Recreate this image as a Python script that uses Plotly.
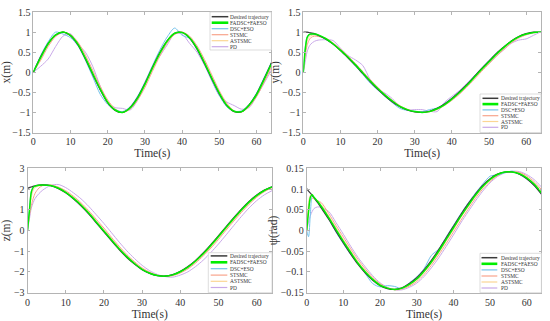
import plotly.graph_objects as go

# ---------------- data ----------------
names = ["Desired trajectory", "FADSC+FAESO", "DSC+ESO", "STSMC", "ASTSMC", "PD"]

t_x = [0, 2, 4, 6, 8, 10, 12, 14, 16, 18, 20, 22, 24, 26, 28, 30, 32, 34, 36, 38,
       40, 42, 44, 46, 48, 50, 52, 54, 56, 58, 60, 62, 64]
t_f = [0, 0.5, 1, 1.5, 2, 3, 4, 6, 8, 10, 12, 14, 16, 18, 20, 22, 24, 26, 28, 30,
       32, 34, 36, 38, 40, 42, 44, 46, 48, 50, 52, 54, 56, 58, 60, 62, 64]

x_des = [0.00, 0.39, 0.72, 0.93, 1.00, 0.91, 0.68, 0.33, -0.06, -0.44, -0.76, -0.95, -1.00, -0.88, -0.63, -0.28, 0.12,
         0.49, 0.79, 0.97, 0.99, 0.85, 0.58, 0.22, -0.17, -0.54, -0.83, -0.98, -0.98, -0.81, -0.54, -0.17, 0.23]
x_fadsc = [0.00, 0.37, 0.71, 0.93, 1.00, 0.92, 0.70, 0.35, -0.04, -0.42, -0.75, -0.94, -1.00, -0.89, -0.65, -0.30, 0.10,
           0.47, 0.78, 0.97, 0.99, 0.86, 0.60, 0.24, -0.15, -0.52, -0.82, -0.97, -0.98, -0.82, -0.56, -0.19, 0.21]
x_dsc = [0.00, 0.42, 0.76, 1.00, 0.95, 0.86, 0.66, 0.30, -0.12, -0.55, -0.80, -0.93, -0.98, -0.86, -0.60, -0.25, 0.16,
         0.55, 0.88, 1.10, 0.92, 0.84, 0.56, 0.20, -0.20, -0.58, -0.86, -0.97, -0.96, -0.80, -0.52, -0.14, 0.25]
x_stsmc = [0.00, 0.30, 0.64, 0.89, 0.99, 0.94, 0.75, 0.43, 0.04, -0.35, -0.69, -0.91, -1.00, -0.92, -0.70, -0.38, 0.02,
           0.40, 0.73, 0.94, 1.00, 0.90, 0.66, 0.32, -0.07, -0.46, -0.77, -0.96, -0.99, -0.86, -0.61, -0.26, 0.13]
x_astsmc = [0.00, 0.35, 0.68, 0.91, 1.00, 0.93, 0.72, 0.38, -0.01, -0.40, -0.73, -0.93, -1.00, -0.90, -0.67, -0.33, 0.07,
            0.45, 0.76, 0.96, 1.00, 0.88, 0.62, 0.27, -0.12, -0.50, -0.80, -0.97, -0.99, -0.84, -0.58, -0.22, 0.18]
x_pd = [0.00, 0.15, 0.33, 0.64, 0.90, 0.96, 0.70, 0.50, 0.14, -0.35, -0.76, -0.88, -0.90, -0.94, -0.70, -0.25, 0.12,
        0.40, 0.68, 0.96, 0.95, 0.72, 0.50, 0.18, -0.22, -0.58, -0.74, -0.83, -0.92, -0.88, -0.60, -0.28, 0.05]

y_des = [1.00, 1.00, 1.00, 0.99, 0.98, 0.96, 0.92, 0.83, 0.70, 0.54, 0.36, 0.17, -0.03, -0.23, -0.42, -0.59, -0.74, -0.86, -0.94,
         -0.99, -1.00, -0.97, -0.90, -0.79, -0.65, -0.49, -0.31, -0.11, 0.09, 0.28, 0.47, 0.63, 0.78, 0.89, 0.96, 1.00, 0.99]
y_fadsc = [0.00, 0.55, 0.85, 0.93, 0.95, 0.95, 0.93, 0.84, 0.71, 0.55, 0.38, 0.19, -0.01, -0.21, -0.40, -0.57, -0.72, -0.85, -0.93,
           -0.98, -1.00, -0.98, -0.91, -0.81, -0.67, -0.51, -0.33, -0.13, 0.07, 0.26, 0.45, 0.62, 0.77, 0.88, 0.95, 0.99, 1.00]
y_dsc = [0.00, 0.60, 0.88, 0.94, 0.95, 0.94, 0.92, 0.82, 0.70, 0.55, 0.36, 0.16, -0.05, -0.27, -0.44, -0.60, -0.76, -0.90, -0.95,
         -0.97, -0.98, -0.93, -0.89, -0.78, -0.64, -0.48, -0.30, -0.10, 0.10, 0.29, 0.47, 0.63, 0.77, 0.88, 0.95, 0.99, 1.00]
y_stsmc = [0.00, 0.40, 0.66, 0.79, 0.86, 0.90, 0.89, 0.85, 0.73, 0.58, 0.41, 0.22, 0.02, -0.18, -0.37, -0.55, -0.70, -0.83, -0.92,
           -0.98, -1.00, -0.98, -0.93, -0.83, -0.70, -0.55, -0.37, -0.18, 0.02, 0.21, 0.40, 0.57, 0.73, 0.85, 0.93, 0.98, 1.00]
y_astsmc = [0.00, 0.48, 0.76, 0.87, 0.91, 0.93, 0.90, 0.84, 0.72, 0.56, 0.39, 0.20, 0.00, -0.20, -0.39, -0.57, -0.72, -0.85, -0.93,
            -0.98, -1.00, -0.98, -0.92, -0.81, -0.68, -0.52, -0.34, -0.15, 0.05, 0.24, 0.43, 0.60, 0.75, 0.87, 0.94, 0.99, 1.00]
y_pd = [0.00, 0.25, 0.50, 0.63, 0.70, 0.77, 0.80, 0.81, 0.79, 0.60, 0.42, 0.31, 0.17, -0.18, -0.42, -0.52, -0.66, -0.86, -0.94,
        -0.93, -0.93, -0.97, -0.98, -0.75, -0.60, -0.46, -0.28, -0.10, 0.06, 0.22, 0.40, 0.56, 0.72, 0.80, 0.83, 0.92, 1.01]

z_des = [2.03, 2.07, 2.10, 2.13, 2.16, 2.19, 2.20, 2.16, 2.03, 1.82, 1.53, 1.19, 0.80, 0.37, -0.06, -0.50, -0.92, -1.30, -1.62,
         -1.89, -2.07, -2.18, -2.20, -2.13, -1.97, -1.74, -1.44, -1.08, -0.68, -0.25, 0.19, 0.62, 1.03, 1.40, 1.71, 1.95, 2.11]
z_fadsc = [0.00, 0.95, 1.85, 2.08, 2.14, 2.18, 2.20, 2.17, 2.05, 1.84, 1.56, 1.23, 0.84, 0.41, -0.02, -0.46, -0.88, -1.26, -1.59,
           -1.87, -2.06, -2.17, -2.20, -2.14, -1.99, -1.77, -1.47, -1.12, -0.72, -0.29, 0.15, 0.58, 0.99, 1.37, 1.68, 1.93, 2.10]
z_dsc = [0.00, 1.00, 1.90, 2.10, 2.15, 2.18, 2.20, 2.17, 2.04, 1.83, 1.55, 1.21, 0.82, 0.39, -0.04, -0.48, -0.90, -1.28, -1.61,
         -1.88, -2.07, -2.18, -2.20, -2.14, -1.98, -1.75, -1.45, -1.10, -0.70, -0.27, 0.17, 0.60, 1.01, 1.38, 1.70, 1.94, 2.10]
z_stsmc = [0.00, 0.70, 1.20, 1.55, 1.80, 2.05, 2.17, 2.20, 2.10, 1.92, 1.66, 1.34, 0.96, 0.54, 0.12, -0.33, -0.76, -1.16, -1.50,
           -1.80, -2.01, -2.16, -2.21, -2.18, -2.05, -1.85, -1.57, -1.23, -0.85, -0.43, 0.02, 0.45, 0.87, 1.26, 1.60, 1.87, 2.06]
z_astsmc = [0.00, 0.90, 1.60, 1.95, 2.08, 2.15, 2.19, 2.18, 2.07, 1.88, 1.61, 1.28, 0.90, 0.48, 0.05, -0.39, -0.82, -1.21, -1.55,
            -1.83, -2.03, -2.16, -2.21, -2.16, -2.02, -1.81, -1.52, -1.18, -0.79, -0.36, 0.08, 0.51, 0.93, 1.31, 1.64, 1.90, 2.08]
z_pd = [0.00, 0.55, 1.08, 1.35, 1.55, 1.78, 1.95, 2.17, 2.22, 2.07, 1.82, 1.53, 1.17, 0.76, 0.34, -0.11, -0.56, -0.98, -1.35,
        -1.68, -1.94, -2.12, -2.22, -2.25, -2.15, -1.99, -1.74, -1.43, -1.06, -0.65, -0.21, 0.24, 0.68, 1.09, 1.44, 1.72, 1.92]

psi_des = [0.101, 0.095, 0.090, 0.085, 0.079, 0.067, 0.054, 0.027, -0.002, -0.030, -0.057, -0.082, -0.103, -0.120, -0.133,
           -0.140, -0.142, -0.138, -0.128, -0.114, -0.095, -0.072, -0.046, -0.018, 0.010, 0.038, 0.064, 0.088, 0.109, 0.125,
           0.136, 0.141, 0.141, 0.136, 0.125, 0.109, 0.088]
psi_fadsc = [0.000, 0.045, 0.080, 0.086, 0.080, 0.070, 0.058, 0.031, 0.002, -0.026, -0.053, -0.079, -0.100, -0.118, -0.132,
             -0.139, -0.142, -0.139, -0.130, -0.117, -0.098, -0.076, -0.050, -0.022, 0.006, 0.034, 0.060, 0.085, 0.106, 0.123,
             0.135, 0.141, 0.141, 0.137, 0.127, 0.112, 0.091]
psi_dsc = [0.000, -0.015, 0.040, 0.082, 0.080, 0.068, 0.055, 0.028, -0.004, -0.032, -0.058, -0.080, -0.104, -0.128, -0.136,
           -0.133, -0.135, -0.140, -0.126, -0.112, -0.092, -0.060, -0.045, -0.016, 0.012, 0.040, 0.066, 0.090, 0.112, 0.131,
           0.134, 0.139, 0.143, 0.135, 0.124, 0.108, 0.088]
psi_stsmc = [0.000, 0.050, 0.075, 0.078, 0.077, 0.072, 0.067, 0.041, 0.012, -0.016, -0.044, -0.070, -0.093, -0.113, -0.128,
             -0.138, -0.143, -0.141, -0.134, -0.123, -0.106, -0.084, -0.059, -0.032, -0.004, 0.024, 0.051, 0.077, 0.100, 0.118,
             0.132, 0.140, 0.142, 0.140, 0.132, 0.118, 0.099]
psi_astsmc = [0.000, 0.065, 0.085, 0.083, 0.078, 0.070, 0.062, 0.035, 0.007, -0.022, -0.049, -0.075, -0.097, -0.115, -0.130,
              -0.139, -0.142, -0.140, -0.132, -0.119, -0.101, -0.079, -0.054, -0.026, 0.002, 0.031, 0.057, 0.082, 0.104, 0.121,
              0.133, 0.140, 0.142, 0.139, 0.129, 0.114, 0.095]
psi_pd = [0.000, 0.020, 0.036, 0.046, 0.053, 0.057, 0.055, 0.046, 0.019, -0.009, -0.038, -0.065, -0.088, -0.109, -0.126,
          -0.137, -0.143, -0.143, -0.137, -0.127, -0.111, -0.090, -0.066, -0.039, -0.011, 0.018, 0.045, 0.071, 0.095, 0.115,
          0.130, 0.139, 0.143, 0.142, 0.135, 0.123, 0.105]

x_ticks = [0, 10, 20, 30, 40, 50, 60]
pos_ticks = [-1.5, -1, -0.5, 0, 0.5, 1, 1.5]
pos_ticktext = ["\u22121.5", "\u22121", "\u22120.5", "0", "0.5", "1", "1.5"]
z_ticks = [-3, -2, -1, 0, 1, 2, 3]
z_ticktext = ["\u22123", "\u22122", "\u22121", "0", "1", "2", "3"]
psi_ticks = [-0.15, -0.1, -0.05, 0, 0.05, 0.1, 0.15]
psi_ticktext = ["\u22120.15", "\u22120.1", "\u22120.05", "0", "0.05", "0.1", "0.15"]

# ---------------- styling ----------------
W, H = 550, 321
FONT = "Liberation Serif, Times New Roman, serif"
colors = ["#3a3a3a", "#00ee00", "#74c2ea", "#f8a48c", "#fbd694", "#c9a9e8"]
widths = [1.2, 1.5, 1.0, 1.0, 1.0, 1.0]
leg_widths = [1.5, 2.6, 1.2, 1.2, 1.2, 1.2]
draw_order = [5, 4, 3, 2, 0, 1]

panels = [
    (t_x, [x_des, x_fadsc, x_dsc, x_stsmc, x_astsmc, x_pd], "x", "y"),
    (t_f, [y_des, y_fadsc, y_dsc, y_stsmc, y_astsmc, y_pd], "x2", "y2"),
    (t_f, [z_des, z_fadsc, z_dsc, z_stsmc, z_astsmc, z_pd], "x3", "y3"),
    (t_f, [psi_des, psi_fadsc, psi_dsc, psi_stsmc, psi_astsmc, psi_pd], "x4", "y4"),
]

fig = go.Figure()
for t, series, xa, ya in panels:
    for k in draw_order:
        fig.add_trace(go.Scatter(
            x=t, y=series[k], mode="lines", name=names[k], showlegend=False,
            line=dict(color=colors[k], width=widths[k], shape="spline", smoothing=0.8),
            xaxis=xa, yaxis=ya, hoverinfo="skip"))

def px_x(X):
    return X / W

def px_y(Y):
    return 1 - Y / H

axis_line = "#b4b4b4"
text_col = "#333333"
common = dict(showline=True, linecolor=axis_line, linewidth=0.8, mirror="ticks", ticks="inside",
              ticklen=3, tickwidth=0.8, tickcolor=axis_line, showgrid=False, zeroline=False,
              tickfont=dict(family=FONT, size=10, color=text_col), automargin=False)
title_font = dict(family=FONT, size=11.5, color=text_col)

x_domains = [(33.3, 271.4), (303.3, 541.0), (27.5, 272.0), (306.7, 541.4)]
y_domains = [(12.0, 132.5), (12.0, 132.5), (168.3, 292.7), (168.3, 292.7)]
y_cfg = [
    (pos_ticks, pos_ticktext, [-1.5, 1.5], "x(m)"),
    (pos_ticks, pos_ticktext, [-1.5, 1.5], "y(m)"),
    (z_ticks, z_ticktext, [-3, 3], "z(m)"),
    (psi_ticks, psi_ticktext, [-0.15, 0.15], "\u03c8(rad)"),
]

layout = dict(width=W, height=H, margin=dict(l=0, r=0, t=0, b=0),
              paper_bgcolor="white", plot_bgcolor="white", showlegend=False)
for i in range(4):
    sx = "" if i == 0 else str(i + 1)
    xd, yd = x_domains[i], y_domains[i]
    layout["xaxis" + sx] = dict(common, domain=[px_x(xd[0]), px_x(xd[1])], range=[0, 64],
                                tickvals=x_ticks, anchor="y" + sx,
                                title=dict(text="Time(s)", font=title_font, standoff=0))
    tv, tt, rg, ttl = y_cfg[i]
    layout["yaxis" + sx] = dict(common, domain=[px_y(yd[1]), px_y(yd[0])], range=rg,
                                tickvals=tv, ticktext=tt, anchor="x" + sx,
                                title=dict(text=ttl, font=title_font, standoff=0))
fig.update_layout(**layout)

# ---------------- legends (drawn as boxes, sample lines and text) ----------------
legends = [
    dict(box=(210.0, 12.0, 271.4, 50.0), rows=[16.7, 22.7, 28.7, 34.7, 40.7, 46.7], sx=(211.7, 228.3), tx=229.3),
    dict(box=(480.0, 94.0, 541.0, 132.5), rows=[98.3, 104.1, 109.9, 115.7, 121.5, 127.3], sx=(482.5, 498.3), tx=500.0),
    dict(box=(208.3, 252.7, 272.0, 292.7), rows=[255.9, 262.3, 268.7, 275.1, 281.3, 287.5], sx=(210.7, 227.3), tx=228.5),
    dict(box=(480.0, 253.3, 541.4, 292.7), rows=[257.7, 263.8, 269.9, 276.0, 282.0, 288.0], sx=(481.5, 497.3), tx=499.5),
]
for lg in legends:
    x0, y0, x1, y1 = lg["box"]
    fig.add_shape(type="rect", xref="paper", yref="paper", x0=px_x(x0), x1=px_x(x1),
                  y0=px_y(y1), y1=px_y(y0), line=dict(color="#cfcfcf", width=0.7),
                  fillcolor="white", layer="above")
    for k in range(6):
        yy = px_y(lg["rows"][k])
        fig.add_shape(type="line", xref="paper", yref="paper", x0=px_x(lg["sx"][0]), x1=px_x(lg["sx"][1]),
                      y0=yy, y1=yy, line=dict(color=colors[k], width=leg_widths[k]), layer="above")
        fig.add_annotation(xref="paper", yref="paper", x=px_x(lg["tx"]), y=yy, text=names[k],
                           showarrow=False, xanchor="left", yanchor="middle", borderpad=0,
                           font=dict(family=FONT, size=5.4, color=text_col))

fig.write_html("out.html", config={"displayModeBar": False},
               post_script="document.body.style.margin='0';")
